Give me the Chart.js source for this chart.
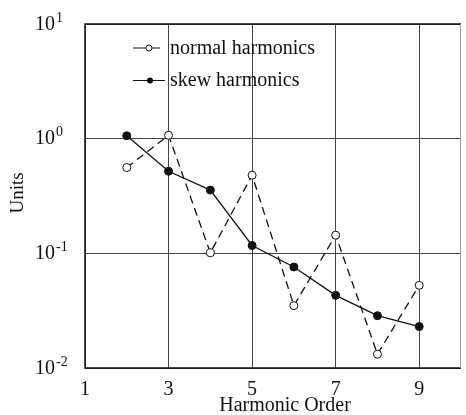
<!DOCTYPE html>
<html>
<head>
<meta charset="utf-8">
<script src="https://cdn.jsdelivr.net/npm/chart.js@4"></script>
<style>
  body { margin: 0; background: #fff; }
  #wrap { width: 466px; height: 415px; position: relative; }
</style>
</head>
<body>
<div id="wrap"><canvas id="harmonicsChart"></canvas></div>
<script>
// values
var harmonicOrder = [2, 3, 4, 5, 6, 7, 8, 9];
var normalHarmonics = [0.56, 1.07, 0.101, 0.48, 0.035, 0.144, 0.0132, 0.0526];
var skewHarmonics = [1.06, 0.52, 0.356, 0.117, 0.076, 0.043, 0.0286, 0.023];
var xTicks = [1, 3, 5, 7, 9];
var yTicks = [0.01, 0.1, 1, 10];
var yExponents = ['-2', '-1', '0', '1'];

var serif = '"Liberation Serif", "Times New Roman", serif';

function points(vals) {
    return harmonicOrder.map(function (h, i) { return { x: h, y: vals[i] }; });
}

// border, legend, y labels with exponents, axis titles
var decorations = {
    id: 'decorations',
    afterDraw: function (chart) {
        var c = chart.ctx, a = chart.chartArea, y = chart.scales.y;
        c.save();
        c.strokeStyle = '#111';
        c.lineWidth = 1.5;
        c.beginPath();
        c.moveTo(a.right, a.top);
        c.lineTo(a.left, a.top);
        c.lineTo(a.left, a.bottom);
        c.lineTo(a.right, a.bottom);
        c.stroke();
        c.strokeStyle = '#999';
        c.lineWidth = 1;
        c.beginPath();
        c.moveTo(a.right - 0.5, a.top);
        c.lineTo(a.right - 0.5, a.bottom);
        c.stroke();

        c.fillStyle = '#111';
        c.textBaseline = 'alphabetic';
        yTicks.forEach(function (v, i) {
            var py = y.getPixelForValue(v);
            c.font = '20px ' + serif;
            c.textAlign = 'right';
            c.fillText('10', 55, py + 5.5);
            c.font = '14px ' + serif;
            c.textAlign = 'left';
            c.fillText(yExponents[i], 56, py - 2.5);
        });

        // legend
        c.strokeStyle = '#111';
        c.lineWidth = 1.2;
        c.beginPath();
        c.moveTo(133, 48); c.lineTo(160, 48);
        c.moveTo(133, 80.5); c.lineTo(165, 80.5);
        c.stroke();
        c.beginPath();
        c.arc(149, 48, 3, 0, Math.PI * 2);
        c.fillStyle = '#fff';
        c.fill();
        c.lineWidth = 1;
        c.stroke();
        c.beginPath();
        c.arc(150, 80.5, 3, 0, Math.PI * 2);
        c.fillStyle = '#111';
        c.fill();
        c.font = '20px ' + serif;
        c.textAlign = 'left';
        c.fillText('normal harmonics', 170, 54);
        c.fillText('skew harmonics', 170, 86);

        // axis titles
        c.textAlign = 'center';
        c.fillText('Harmonic Order', 285, 411);
        c.translate(23, 193);
        c.rotate(-Math.PI / 2);
        c.font = '19px ' + serif;
        c.fillText('Units', 0, 0);
        c.restore();
    }
};

var ctx = document.getElementById('harmonicsChart').getContext('2d');
var harmonicsChart = new Chart(ctx, {
    type: 'line',
    data: {
        datasets: [{
            label: 'normal harmonics',
            data: points(normalHarmonics),
            borderColor: '#111',
            borderWidth: 1.3,
            borderDash: [8, 5],
            pointRadius: 4,
            pointBackgroundColor: '#fff',
            pointBorderColor: '#111',
            pointBorderWidth: 1,
            tension: 0
        }, {
            label: 'skew harmonics',
            data: points(skewHarmonics),
            borderColor: '#111',
            borderWidth: 1.3,
            pointRadius: 4,
            pointBackgroundColor: '#111',
            pointBorderColor: '#111',
            pointBorderWidth: 1,
            tension: 0
        }]
    },
    options: {
        responsive: true,
        maintainAspectRatio: false,
        animation: false,
        layout: { padding: { top: 24, right: 1, left: 0, bottom: 0 } },
        plugins: {
            legend: { display: false },
            tooltip: { enabled: false }
        },
        scales: {
            x: {
                type: 'linear',
                min: 1,
                max: 10,
                afterBuildTicks: function (s) {
                    s.ticks = xTicks.map(function (v) { return { value: v }; });
                },
                afterFit: function (s) { s.height = 47; },
                grid: { color: '#444', lineWidth: 1, drawTicks: false },
                border: { display: false },
                ticks: {
                    color: '#111',
                    font: { family: serif, size: 20 },
                    padding: 10,
                    maxRotation: 0,
                    autoSkip: false
                }
            },
            y: {
                type: 'logarithmic',
                min: 0.01,
                max: 10,
                afterBuildTicks: function (s) {
                    s.ticks = yTicks.map(function (v) { return { value: v }; });
                },
                afterFit: function (s) { s.width = 85; },
                grid: { color: '#444', lineWidth: 1, drawTicks: false },
                border: { display: false },
                ticks: {
                    callback: function () { return ''; }
                }
            }
        }
    },
    plugins: [decorations]
});
</script>
</body>
</html>
